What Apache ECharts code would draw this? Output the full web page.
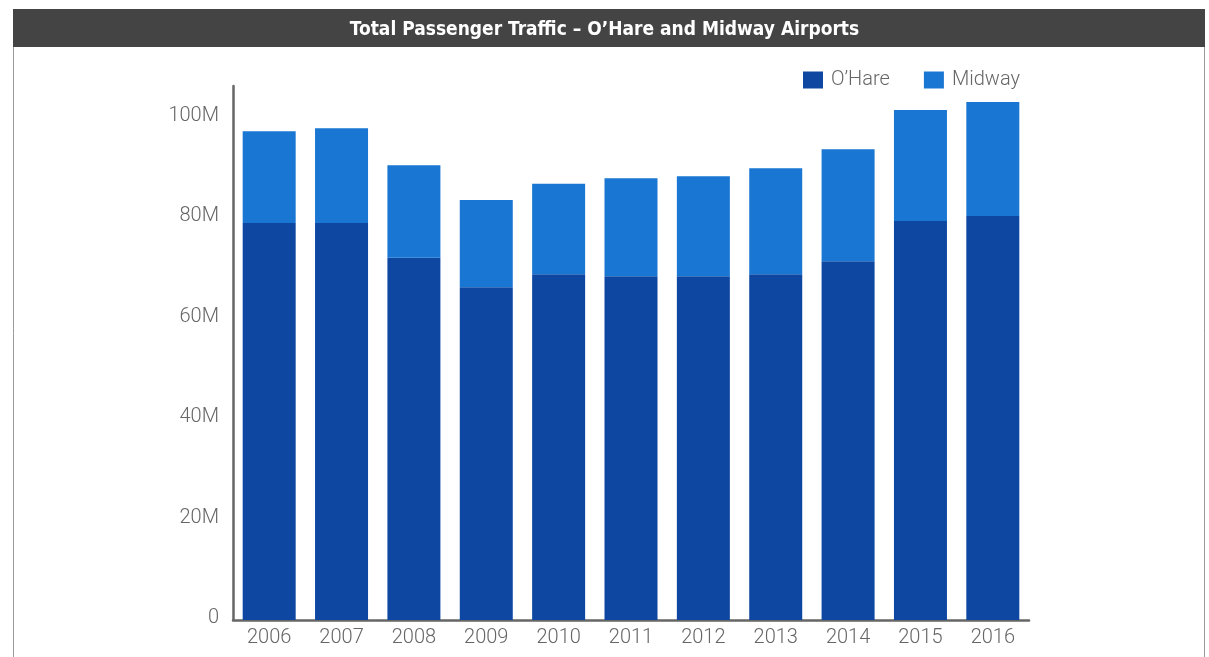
<!DOCTYPE html>
<html>
<head>
<meta charset="utf-8">
<script src="https://cdn.jsdelivr.net/npm/echarts@6/dist/echarts.min.js"></script>
<style>
html,body{margin:0;padding:0;background:#fff;}
#chart{width:1209px;height:657px;}
</style>
</head>
<body>
<div id="chart"></div>
<script>
const years = ['2006','2007','2008','2009','2010','2011','2012','2013','2014','2015','2016'];
const ohare = [79.1, 79.1, 72.2, 66.3, 68.9, 68.5, 68.5, 68.9, 71.5, 79.5, 80.5];
const midway = [18.3, 18.9, 18.4, 17.4, 18.0, 19.5, 19.9, 21.1, 22.3, 22.1, 22.7];
const titleText = 'Total Passenger Traffic \u2013 O\u2019Hare and Midway Airports';

const chart = echarts.init(document.getElementById('chart'));
chart.setOption({
  animation: false,
  backgroundColor: '#fff',
  graphic: [
    { type: 'rect', shape: { x: 13.5, y: 9.5, width: 1191, height: 660 }, style: { fill: 'none', stroke: '#9a9a9a', lineWidth: 1 }, z: 0 },
    { type: 'rect', shape: { x: 13, y: 9, width: 1192, height: 38 }, style: { fill: '#444444' }, z: 1 }
  ],
  title: {
    text: titleText,
    left: 'center',
    top: 16,
    textStyle: { color: '#ffffff', fontFamily: '"DejaVu Sans Condensed", "DejaVu Sans"', fontWeight: 'bold', fontSize: 19 }
  },
  legend: {
    left: 803,
    top: 70,
    padding: 0,
    itemWidth: 20,
    itemHeight: 17,
    itemGap: 34,
    icon: 'rect',
    textStyle: { color: '#666', fontFamily: 'Roboto', fontWeight: 300, fontSize: 20, padding: [0, 0, 0, 3] },
    data: ['O\u2019Hare', 'Midway']
  },
  grid: { left: 233, right: 180, top: 86, bottom: 37, containLabel: false },
  xAxis: {
    type: 'category',
    data: years,
    axisLine: { lineStyle: { color: '#666', width: 2.5 } },
    axisTick: { show: false },
    axisLabel: { color: '#666', fontFamily: 'Roboto', fontWeight: 300, fontSize: 20, margin: 8 }
  },
  yAxis: {
    type: 'value',
    min: 0,
    max: 106.4,
    interval: 20,
    splitLine: { show: false },
    axisLine: { show: true, lineStyle: { color: '#666', width: 2.5 } },
    axisTick: { show: false },
    axisLabel: {
      color: '#666', fontFamily: 'Roboto', fontWeight: 300, fontSize: 20, margin: 14,
      showMaxLabel: false,
      verticalAlign: 'bottom',
      lineHeight: 4,
      formatter: v => (v === 0 ? '0' : (v % 20 === 0 ? v + 'M' : ''))
    }
  },
  series: [
    { name: 'O\u2019Hare', type: 'bar', stack: 'total', data: ohare, barWidth: 53, itemStyle: { color: '#0d47a1' } },
    { name: 'Midway', type: 'bar', stack: 'total', data: midway, barWidth: 53, itemStyle: { color: '#1976d2' } }
  ]
});
</script>
</body>
</html>
